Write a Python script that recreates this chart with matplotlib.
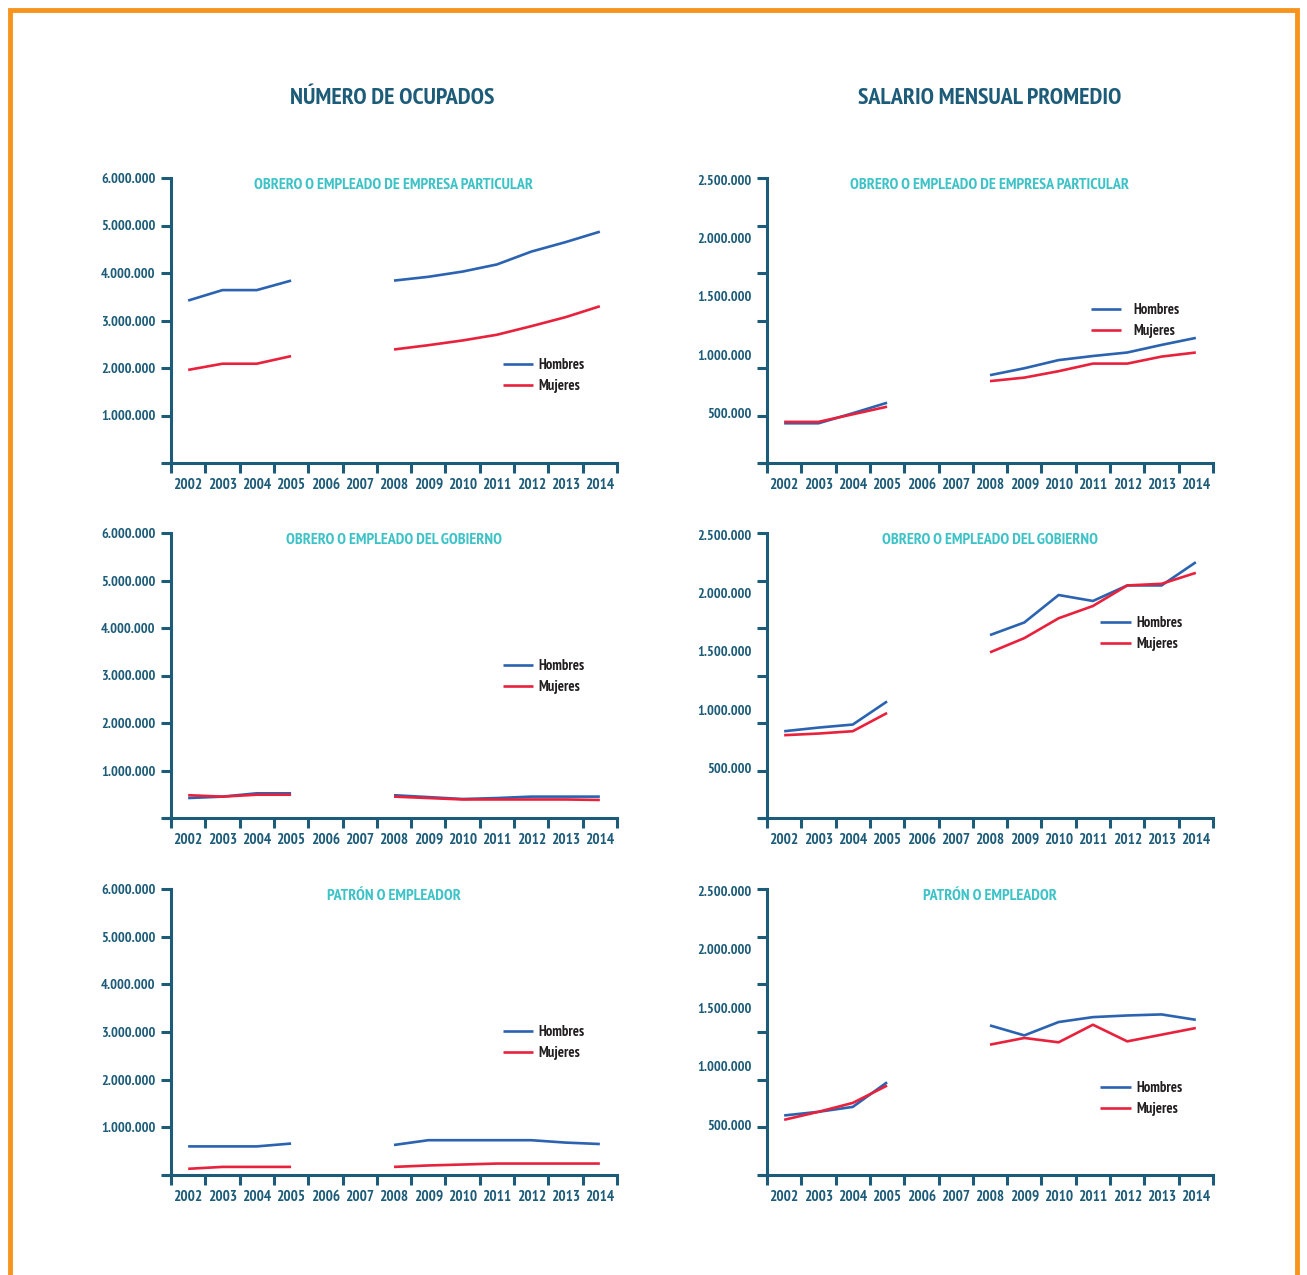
import numpy as np
import matplotlib
matplotlib.use("Agg")
from matplotlib import pyplot as plt
from matplotlib import font_manager as fm
from matplotlib.patches import Rectangle

years = ['2002', '2003', '2004', '2005', '2006', '2007', '2008',
         '2009', '2010', '2011', '2012', '2013', '2014']
nan = np.nan

# numero de ocupados
ocu_part_h = [3420000, 3640000, 3640000, 3840000, nan, nan, 3840000, 3920000, 4030000, 4180000, 4450000, 4650000, 4870000]
ocu_part_m = [1960000, 2090000, 2090000, 2250000, nan, nan, 2390000, 2480000, 2580000, 2700000, 2880000, 3070000, 3300000]
ocu_gob_h = [420000, 450000, 520000, 520000, nan, nan, 480000, 440000, 400000, 420000, 450000, 450000, 450000]
ocu_gob_m = [480000, 450000, 490000, 490000, nan, nan, 450000, 420000, 390000, 390000, 390000, 390000, 380000]
ocu_pat_h = [600000, 600000, 600000, 660000, nan, nan, 630000, 730000, 730000, 730000, 730000, 680000, 650000]
ocu_pat_m = [130000, 170000, 170000, 170000, nan, nan, 170000, 200000, 220000, 240000, 240000, 240000, 240000]

# salario mensual promedio
sal_part_h = [414000, 414000, 500000, 590000, nan, nan, 826000, 885000, 955000, 990000, 1020000, 1085000, 1145000]
sal_part_m = [426000, 426000, 491000, 556000, nan, nan, 775000, 805000, 860000, 925000, 925000, 985000, 1020000]
sal_gob_h = [817000, 848000, 874000, 1072000, nan, nan, 1640000, 1748000, 1983000, 1932000, 2065000, 2065000, 2264000]
sal_gob_m = [783000, 797000, 817000, 973000, nan, nan, 1492000, 1614000, 1784000, 1889000, 2065000, 2079000, 2173000]
sal_pat_h = [582000, 613000, 655000, 865000, nan, nan, 1350000, 1265000, 1379000, 1421000, 1435000, 1444000, 1398000]
sal_pat_m = [545000, 613000, 689000, 837000, nan, nan, 1186000, 1243000, 1206000, 1356000, 1214000, 1271000, 1328000]

ocu_ticks = [1000000, 2000000, 3000000, 4000000, 5000000, 6000000]
sal_ticks = [500000, 1000000, 1500000, 2000000, 2500000]

titles = ['OBRERO O EMPLEADO DE EMPRESA PARTICULAR',
          'OBRERO O EMPLEADO DEL GOBIERNO',
          'PATRÓN O EMPLEADOR']

DARK = '#1d5c79'
CYAN = '#3cc3c7'
BLUE = '#2b63b1'
RED = '#e8213d'
ORANGE = '#f7941d'


# bold narrow face (PT Sans Narrow if there), else any bold condensed one
def pick_font():
    found = []
    for f in fm.fontManager.ttflist:
        low = (f.name + ' ' + f.fname).lower()
        if not ('condensed' in low or 'narrow' in low or f.stretch == 'condensed'):
            continue
        if 'italic' in low or 'oblique' in low:
            continue
        w = f.weight if isinstance(f.weight, int) else 400
        if w < 600 or w > 750:
            continue
        score = 0
        if 'pt sans' not in low and 'pt_sans' not in low:
            score += 1
        if 'extra' in low or 'ultra' in low or 'semi' in low:
            score += 2
        found.append((score, f.fname))
    found.sort()
    return found[0][1] if found else None


COND = pick_font()


def fp(size):
    if COND:
        return fm.FontProperties(fname=COND, size=size)
    return fm.FontProperties(family='Liberation Sans', weight='bold', size=size * 0.85)


W, H = 1307, 1275
fig = plt.figure(figsize=(W / 100, H / 100), dpi=100)


def fmt(v):
    return f"{v:,.0f}".replace(',', '.')


def axes_px(x0, y0, x1, y1):
    return fig.add_axes([x0 / W, 1 - y1 / H, (x1 - x0) / W, (y1 - y0) / H])


def style(ax, title, leg_x, leg_y, textpad=0.35):
    x = np.arange(len(years))
    ax.set_xlim(-0.5, len(years) - 0.5)
    ax.set_xticks(np.arange(len(years) + 1) - 0.5)
    ax.set_xticklabels([])
    ax.set_xticks(x, minor=True)
    ax.set_xticklabels(years, minor=True)
    ax.tick_params(axis='x', which='major', direction='out', length=7, width=2.2, color=DARK)
    ax.tick_params(axis='x', which='minor', length=0, pad=10.5, labelcolor=DARK)
    for s in ['top', 'right']:
        ax.spines[s].set_visible(False)
    for s in ['left', 'bottom']:
        ax.spines[s].set_color(DARK)
        ax.spines[s].set_linewidth(2.2)
    ax.spines['bottom'].set_bounds(-0.68, len(years) - 0.5)
    for lab in ax.get_xticklabels(minor=True):
        lab.set_fontproperties(fp(11))
    ax.text(0.5, 0.975, title, transform=ax.transAxes, ha='center', va='center',
            color=CYAN, fontproperties=fp(11.5))
    leg = ax.legend(loc='center left', bbox_to_anchor=(leg_x, leg_y), frameon=False,
                    handlelength=2.1, handletextpad=textpad, labelspacing=0.5,
                    borderpad=0, borderaxespad=0, prop=fp(10.5))
    for t in leg.get_texts():
        t.set_color('#231f20')


def draw_lines(ax, h, m):
    x = np.arange(len(years))
    ax.plot(x, h, color=BLUE, lw=1.9, label='Hombres', solid_capstyle='butt')
    ax.plot(x, m, color=RED, lw=1.9, label='Mujeres', solid_capstyle='butt')


rows = [(178, 463), (533, 818), (889, 1175)]
ocu_data = [(ocu_part_h, ocu_part_m), (ocu_gob_h, ocu_gob_m), (ocu_pat_h, ocu_pat_m)]
sal_data = [(sal_part_h, sal_part_m), (sal_gob_h, sal_gob_m), (sal_pat_h, sal_pat_m)]
ocu_leg = [(0.744, 0.307), (0.744, 0.496), (0.744, 0.463)]
sal_leg = [(0.726, 0.50, 0.8), (0.747, 0.647, 0.35), (0.747, 0.267, 0.35)]

for i, (y0, y1) in enumerate(rows):
    # left column: numero de ocupados
    ax = axes_px(171, y0, 617, y1)
    draw_lines(ax, *ocu_data[i])
    ax.set_ylim(0, 6000000)
    ax.set_yticks([0] + ocu_ticks)
    ax.set_yticklabels([''] + [fmt(v) for v in ocu_ticks])
    ax.tick_params(axis='y', direction='out', length=7, width=2.2, color=DARK,
                   pad=4.3, labelcolor=DARK)
    for lab in ax.get_yticklabels():
        lab.set_fontproperties(fp(10.4))
    style(ax, titles[i], *ocu_leg[i])

    # right column: salario mensual promedio (labels not aligned with tick marks)
    ax = axes_px(767, y0, 1213, y1)
    draw_lines(ax, *sal_data[i])
    lo, hi = 74000, 2514000
    ax.set_ylim(lo, hi)
    ax.set_yticks(np.linspace(lo, hi, 7))
    ax.set_yticklabels([])
    ax.set_yticks(sal_ticks, minor=True)
    ax.set_yticklabels([fmt(v) for v in sal_ticks], minor=True)
    ax.tick_params(axis='y', which='major', direction='out', length=7, width=2.2, color=DARK)
    ax.tick_params(axis='y', which='minor', length=0, pad=11, labelcolor=DARK)
    for lab in ax.get_yticklabels(minor=True):
        lab.set_fontproperties(fp(10.4))
    style(ax, titles[i], sal_leg[i][0], sal_leg[i][1], sal_leg[i][2])

fig.text(392 / W, 1 - 98 / H, 'NÚMERO DE OCUPADOS', ha='center', va='center',
         color=DARK, fontproperties=fp(17.3))
fig.text(990 / W, 1 - 98 / H, 'SALARIO MENSUAL PROMEDIO', ha='center', va='center',
         color=DARK, fontproperties=fp(17.3))

# orange frame, open at the bottom
fig.patches.append(Rectangle((10 / W, -0.05), (W - 20) / W, 1.05 - 10 / H,
                             transform=fig.transFigure, fill=False,
                             edgecolor=ORANGE, linewidth=3.5))

fig.savefig('out.png', dpi=100)
